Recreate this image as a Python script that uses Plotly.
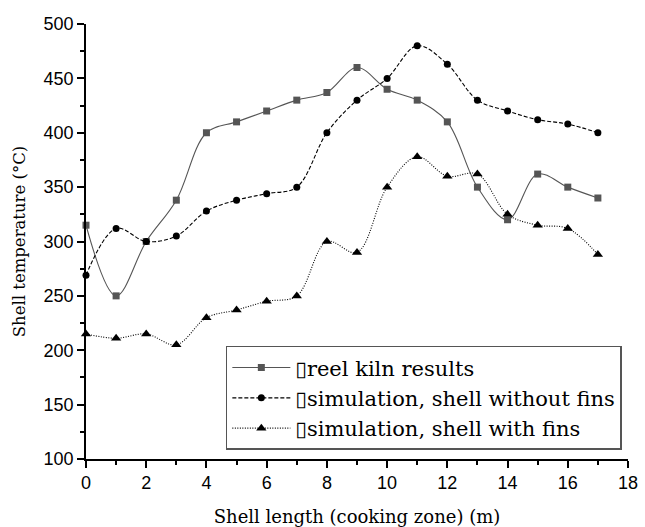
import plotly.graph_objects as go

x_vals = list(range(18))
reel_kiln = [315, 250, 300, 338, 400, 410, 420, 430, 437, 460, 440, 430, 410, 350, 320, 362, 350, 340]
sim_no_fins = [269, 312, 300, 305, 328, 338, 344, 350, 400, 430, 450, 480, 463, 430, 420, 412, 408, 400]
sim_fins = [215, 211, 215, 205, 230, 237, 245, 250, 300, 290, 350, 378, 360, 362, 325, 315, 312, 288]

names = ["\u25afreel kiln results", "\u25afsimulation, shell without fins", "\u25afsimulation, shell with fins"]

SERIF = "DejaVu Serif"
SANS = "Liberation Sans"

fig = go.Figure()
fig.add_trace(go.Scatter(
    x=x_vals, y=reel_kiln, name=names[0], mode="lines+markers",
    line=dict(color="#555555", width=1.1, shape="spline", smoothing=1.0),
    marker=dict(symbol="square", size=7, color="#555555"), cliponaxis=False))
fig.add_trace(go.Scatter(
    x=x_vals, y=sim_no_fins, name=names[1], mode="lines+markers",
    line=dict(color="black", width=1.1, dash="4px,2px", shape="spline", smoothing=1.0),
    marker=dict(symbol="circle", size=7, color="black"), cliponaxis=False))
fig.add_trace(go.Scatter(
    x=x_vals, y=sim_fins, name=names[2], mode="lines+markers",
    line=dict(color="black", width=1.1, dash="1px,1.5px", shape="spline", smoothing=1.0),
    marker=dict(symbol="triangle-up", size=9, color="black"), cliponaxis=False))

axis_common = dict(
    showline=True, linecolor="black", linewidth=1.5, mirror=False,
    ticks="outside", ticklen=7, tickwidth=1.5, tickcolor="black",
    showgrid=False, zeroline=False, automargin=False,
    tickfont=dict(family=SANS, size=18, color="black"),
)

fig.update_xaxes(
    range=[0, 18], tick0=0, dtick=2,
    minor=dict(ticks="outside", ticklen=4, tickwidth=1.5, tickcolor="black", dtick=1),
    title=dict(text="Shell length (cooking zone) (m)",
               font=dict(family=SERIF, size=18, color="black"),
               standoff=18),
    **axis_common)
fig.update_yaxes(
    range=[100, 500], tick0=100, dtick=50,
    minor=dict(ticks="outside", ticklen=4, tickwidth=1.5, tickcolor="black", dtick=25),
    title=dict(text="Shell temperature (°C)",
               font=dict(family=SERIF, size=16.5, color="black"),
               standoff=14),
    **axis_common)

fig.update_layout(
    width=645, height=527,
    margin=dict(l=86, r=17, t=24, b=68),
    plot_bgcolor="white", paper_bgcolor="white",
    legend=dict(
        x=0.258, y=0.26, xanchor="left", yanchor="top",
        bordercolor="#555555", borderwidth=1.5, bgcolor="white",
        font=dict(family=SERIF, size=21, color="black"),
        itemwidth=58, tracegroupgap=0,
    ),
    showlegend=True,
)

fig.write_html("out.html")
